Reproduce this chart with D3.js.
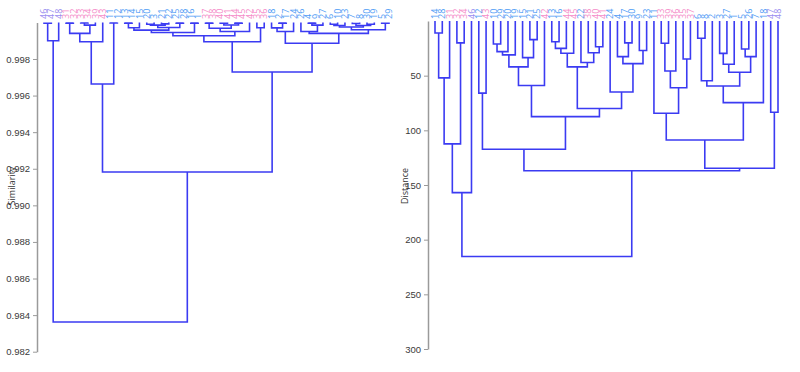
<!DOCTYPE html>
<html>
<head>
<meta charset="utf-8">
<script src="https://cdn.jsdelivr.net/npm/d3@7.9.0/dist/d3.min.js"></script>
<style>
  body { margin: 0; background: #fff; }
  svg { display: block; font-family: 'Open Sans', sans-serif; }
  .axis path, .axis line { stroke: #9a9a9a; }
  .axis text { fill: #3a3a3a; font-size: 9.5px; }
</style>
</head>
<body>
<svg id="chart" width="800" height="372"></svg>
<script>
// leaf order and merges ([a, b, value]; '#k' refers to merge k)
const leftLeaves = [46, 47, 48, 31, 32, 33, 34, 39, 43, 11, 12, 13, 14, 15, 20, 3, 21, 22, 25, 28, 16, 1, 37, 38,
  40, 41, 44, 45, 42, 35, 36, 18, 2, 17, 24, 26, 4, 9, 27, 6, 10, 23, 7, 8, 30, 19, 5, 29];
const leftMerges = [
  [46, 47, 0.99995], ['#0', 48, 0.99900], [31, 32, 0.99996], [33, 34, 0.99997], ['#3', 39, 0.99985],
  ['#2', '#4', 0.99940], ['#5', 43, 0.99894], [11, 12, 0.99997], ['#6', '#7', 0.99663], [13, 14, 0.99996],
  ['#9', 15, 0.99971], [20, 3, 0.99990], [21, 22, 0.99992], ['#11', '#12', 0.99985], [25, 28, 0.99996],
  ['#13', '#14', 0.99972], ['#10', '#15', 0.99958], [16, 1, 0.99996], ['#16', '#17', 0.99945], [37, 38, 0.99996],
  [40, 41, 0.99995], [44, 45, 0.99996], ['#20', '#21', 0.99986], ['#19', '#22', 0.99968], ['#23', 42, 0.99950],
  ['#18', '#24', 0.99927], [35, 36, 0.99971], ['#25', '#26', 0.99894], [2, 17, 0.99996], [18, '#28', 0.99970],
  ['#29', 24, 0.99950], [4, 9, 0.99996], ['#31', 27, 0.99985], [26, '#32', 0.99950], [6, 10, 0.99990],
  ['#34', 23, 0.99983], [7, 8, 0.99994], [30, 19, 0.99990], ['#36', '#37', 0.99983], ['#35', '#38', 0.99975],
  [5, 29, 0.99995], ['#39', '#40', 0.99960], ['#33', '#41', 0.99940], ['#30', '#42', 0.99886],
  ['#27', '#43', 0.99729], ['#8', '#44', 0.99182], ['#1', '#45', 0.98362]
];
const leftTicks = [0.982, 0.984, 0.986, 0.988, 0.990, 0.992, 0.994, 0.996, 0.998];

const rightLeaves = [14, 28, 31, 32, 34, 46, 12, 43, 10, 29, 20, 19, 15, 21, 25, 42, 13, 16, 44, 45, 22, 38, 40, 41,
  24, 4, 17, 30, 9, 23, 11, 33, 39, 36, 35, 37, 6, 8, 2, 3, 27, 1, 5, 26, 7, 18, 47, 48];
const rightMerges = [
  [14, 28, 11], ['#0', 31, 52], [32, 34, 20], ['#1', '#2', 112.4], ['#3', 46, 157],
  [12, 43, 66], [10, 29, 21], ['#6', 20, 28], ['#7', 19, 31], [21, 25, 17],
  [15, '#9', 33.5], ['#8', '#10', 42], ['#11', 42, 59], [13, 16, 19], ['#13', 44, 25],
  ['#14', 45, 29.5], [40, 41, 23.5], [38, '#16', 29], [22, '#17', 38], ['#15', '#18', 42],
  [17, 30, 20], [4, '#20', 32.6], [9, 23, 27], ['#21', '#22', 39], [24, '#23', 65],
  ['#19', '#24', 80], ['#12', '#25', 87.5], ['#5', '#26', 117.3], [33, 39, 20.4], ['#28', 36, 45.7],
  [35, 37, 34.7], ['#29', '#30', 61], [11, '#31', 84.4], [6, 8, 15.8], ['#33', 2, 54.6],
  [3, 27, 29.6], ['#35', 1, 39.6], [5, 26, 25.6], ['#37', 7, 32.6], ['#36', '#38', 46.9],
  ['#34', '#39', 59.4], ['#40', 18, 74.7], ['#32', '#41', 108.8], [47, 48, 83.5], ['#42', '#43', 134.7],
  ['#27', '#44', 137], ['#4', '#45', 215.4]
];
const rightTicks = [50, 100, 150, 200, 250, 300];

const svg = d3.select('#chart');
const lineColor = '#3b3bf2';

function leafColor(n) {
  if (n <= 30) return '#4f9cf5';
  if (n <= 45) return '#f58cc8';
  return '#9b8ff0';
}

function drawDendrogram(leaves, merges, x, y, leafValue) {
  let g = svg.append('g');
  let nodes = merges.map(() => null);
  let pos = (ref) => {
    if (typeof ref === 'string') return nodes[+ref.slice(1)];
    return { x: x(ref), v: leafValue };
  };

  merges.forEach(([a, b, v], i) => {
    let na = pos(a);
    let nb = pos(b);
    let p = d3.path();
    p.moveTo(na.x, y(na.v));
    p.lineTo(na.x, y(v));
    p.lineTo(nb.x, y(v));
    p.lineTo(nb.x, y(nb.v));
    g.append('path')
      .attr('d', p.toString())
      .attr('fill', 'none')
      .attr('stroke', lineColor)
      .attr('stroke-width', 1.6);
    nodes[i] = { x: (na.x + nb.x) / 2, v: v };
  });

  g.selectAll('text.leaf')
    .data(leaves)
    .join('text')
    .attr('class', 'leaf')
    .attr('transform', (d) => `translate(${x(d)},19) rotate(-90)`)
    .attr('dy', '0.35em')
    .attr('fill', (d) => leafColor(d))
    .attr('font-size', 9)
    .text((d) => d);
}

// left: similarity
let xL = d3.scalePoint().domain(leftLeaves).range([44, 389]);
let yL = d3.scaleLinear().domain([0.982, 1]).range([351.7, 22.4]);
drawDendrogram(leftLeaves, leftMerges, xL, yL, 1);
svg.append('g')
  .attr('class', 'axis')
  .attr('transform', 'translate(37,0)')
  .call(d3.axisLeft(yL).tickValues(leftTicks).tickFormat(d3.format('.3f')).tickSize(4).tickSizeOuter(0))
  .select('.domain').attr('stroke-width', 1.5);
svg.append('text')
  .attr('transform', 'translate(12,186) rotate(-90)')
  .attr('text-anchor', 'middle')
  .attr('dy', '0.35em')
  .attr('font-size', 9)
  .attr('fill', '#333')
  .text('Similarity');

// right: distance
let xR = d3.scalePoint().domain(rightLeaves).range([435, 778]);
let yR = d3.scaleLinear().domain([0, 300]).range([21, 349]);
drawDendrogram(rightLeaves, rightMerges, xR, yR, 0);
svg.append('g')
  .attr('class', 'axis')
  .attr('transform', 'translate(428,0)')
  .call(d3.axisLeft(yR).tickValues(rightTicks).tickSize(4).tickSizeOuter(0))
  .select('.domain').attr('stroke-width', 1.5);
svg.append('text')
  .attr('transform', 'translate(405,186) rotate(-90)')
  .attr('text-anchor', 'middle')
  .attr('dy', '0.35em')
  .attr('font-size', 9)
  .attr('fill', '#333')
  .text('Distance');
</script>
</body>
</html>
